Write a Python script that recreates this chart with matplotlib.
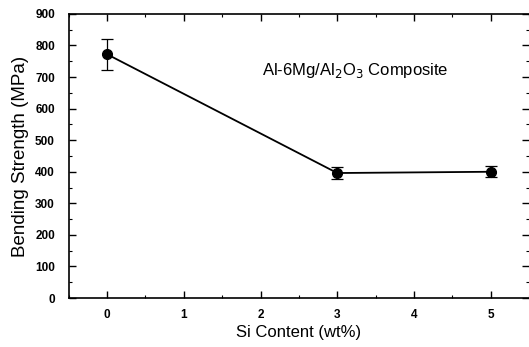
import matplotlib.pyplot as plt
from matplotlib.ticker import MultipleLocator

plt.rcParams['font.family'] = ['Liberation Sans', 'DejaVu Sans']

# data
si_content = [0, 3, 5]
strength = [772, 396, 400]
strength_err = [50, 18, 18]

fig = plt.figure(figsize=(5.29, 3.47), dpi=100)
ax = fig.add_axes([0.130, 0.141, 0.87, 0.819])

ax.errorbar(si_content, strength, yerr=strength_err, color='black', marker='o',
            markersize=7, linewidth=1.3, capsize=4, elinewidth=0.9, capthick=0.9)

ax.set_xlim(-0.5, 5.5)
ax.set_ylim(0, 900)
ax.xaxis.set_major_locator(MultipleLocator(1))
ax.xaxis.set_minor_locator(MultipleLocator(0.5))
ax.yaxis.set_major_locator(MultipleLocator(100))
ax.yaxis.set_minor_locator(MultipleLocator(50))
ax.tick_params(which='both', direction='in', top=True, right=True, labelsize=8.5)
ax.tick_params(which='major', length=5, width=1)
ax.tick_params(which='minor', length=2.5, width=0.8)
ax.tick_params(axis='y', pad=10)
ax.tick_params(axis='x', pad=8)
for lab in ax.get_xticklabels() + ax.get_yticklabels():
    lab.set_fontweight('bold')
ax.spines['right'].set_visible(False)
for s in ['left', 'bottom', 'top']:
    ax.spines[s].set_linewidth(1.2)

ax.text(3.23, 722, 'Al-6Mg/Al$_2$O$_3$ Composite', ha='center', va='center', fontsize=12)
ax.set_xlabel('Si Content (wt%)', fontsize=12, labelpad=3)
ax.set_ylabel('Bending Strength (MPa)', fontsize=13.5, labelpad=4)

plt.savefig('out.png', dpi=100)
